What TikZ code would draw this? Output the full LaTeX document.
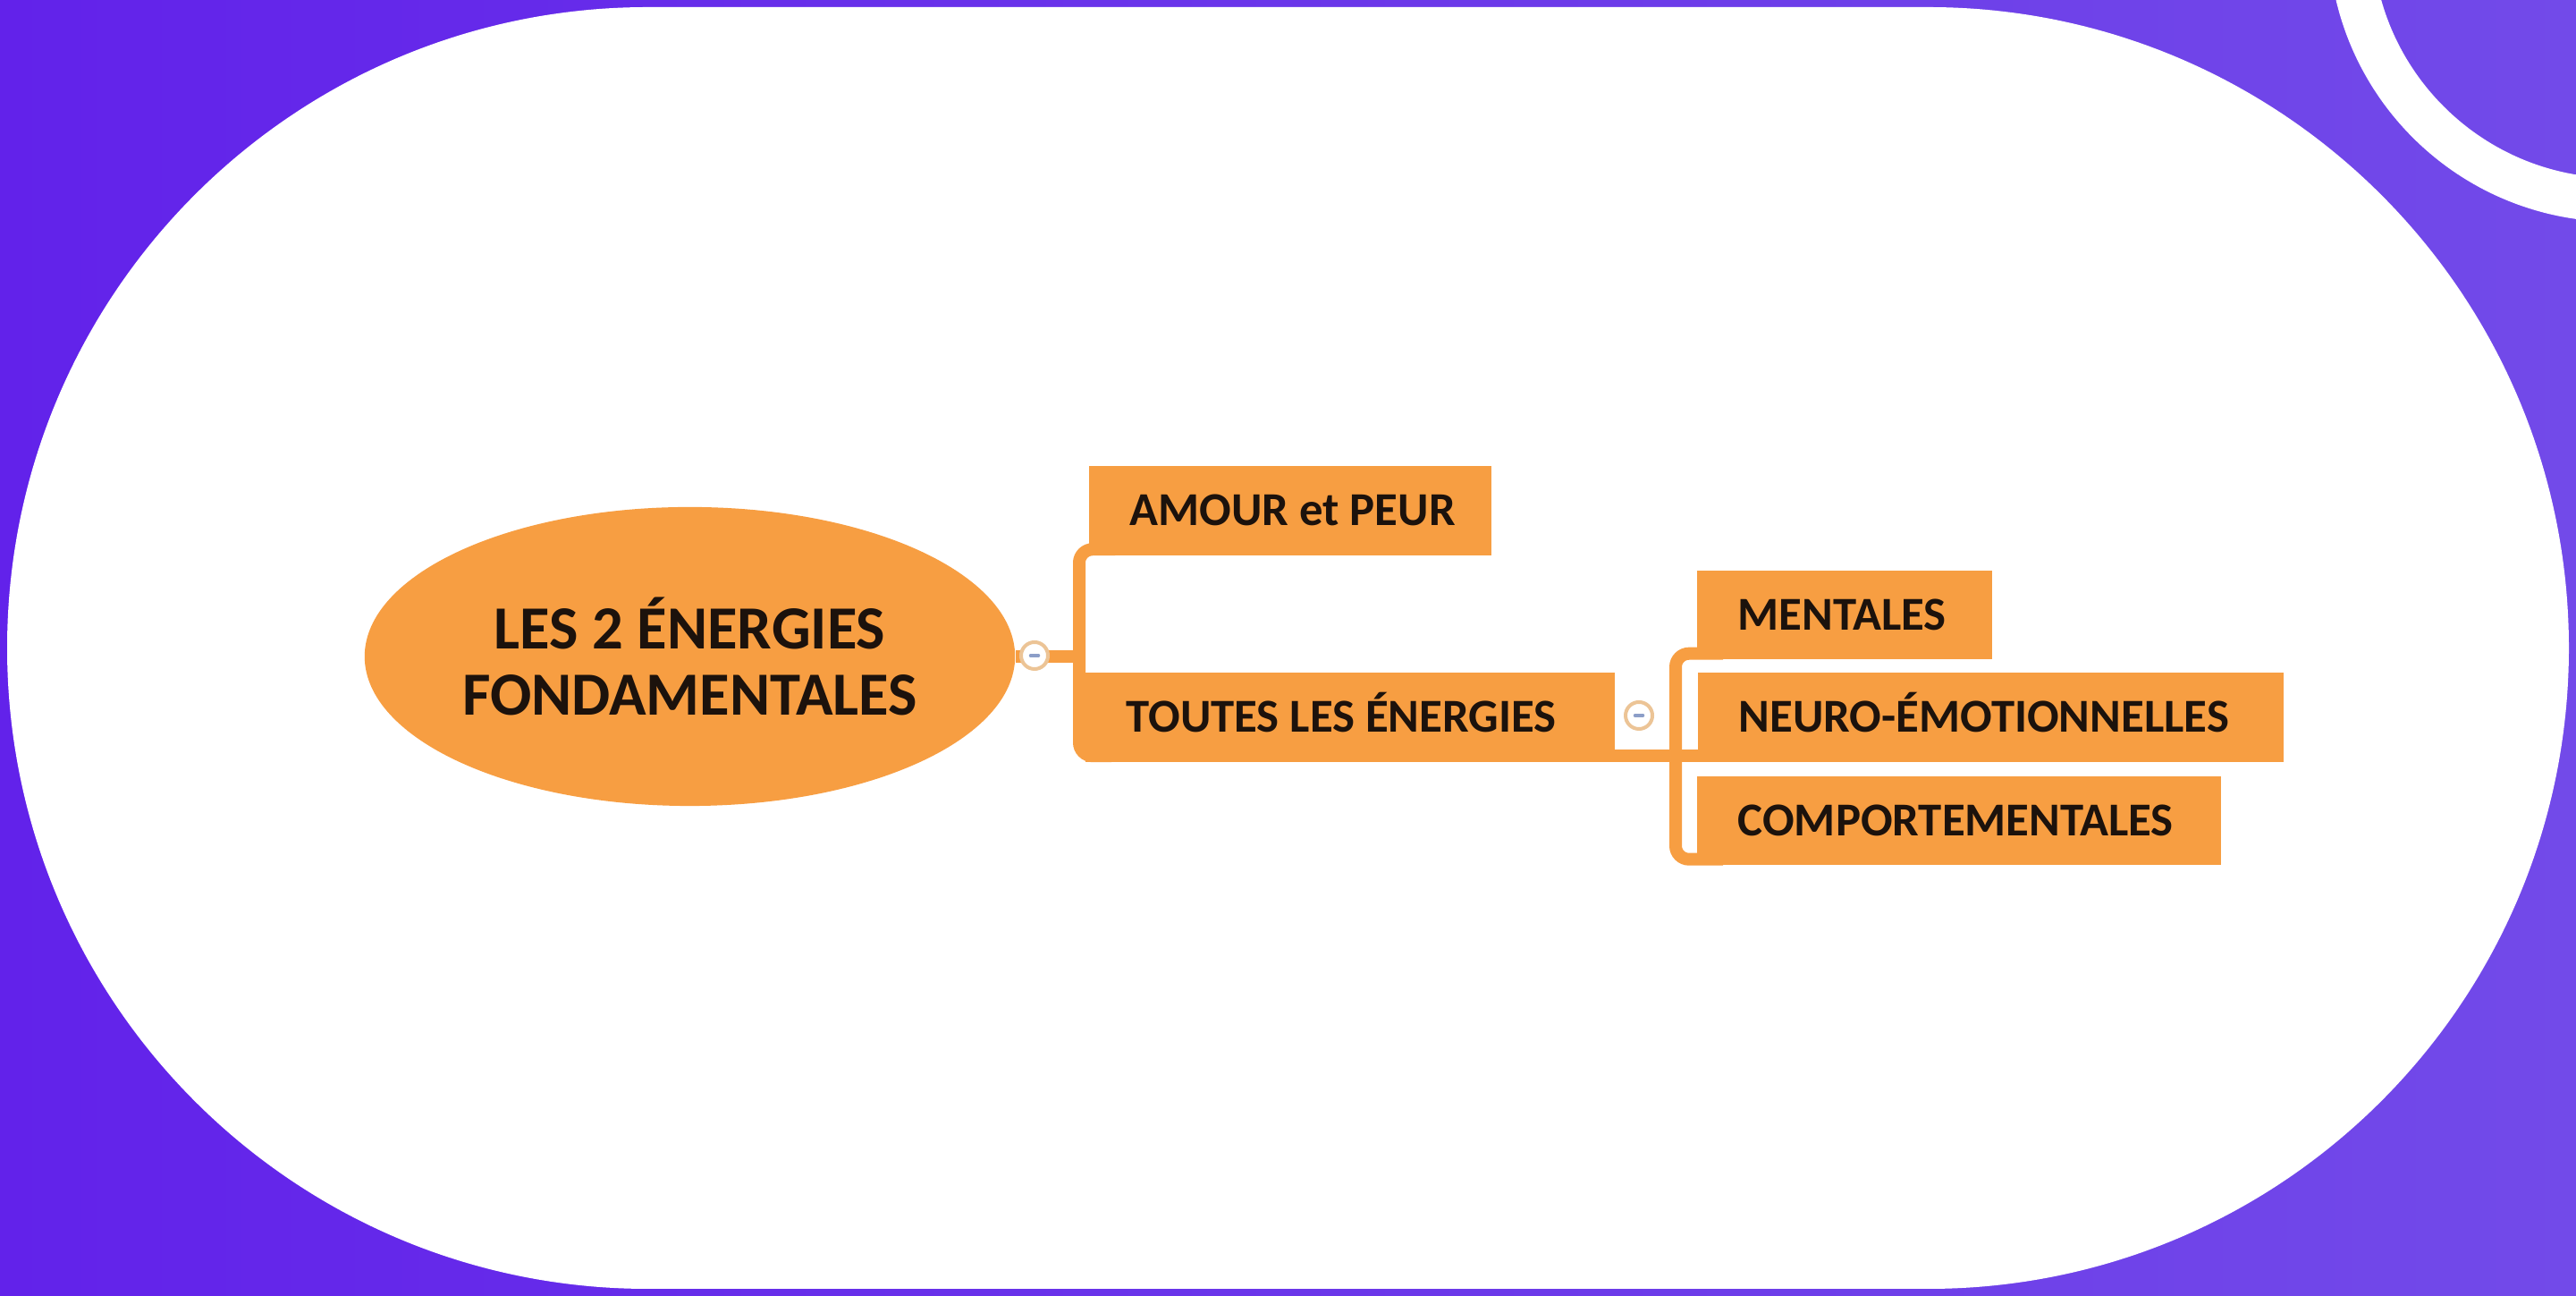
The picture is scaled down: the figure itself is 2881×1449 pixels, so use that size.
\documentclass[tikz,border=0pt]{standalone}
\usepackage{fontspec}
\setmainfont{Carlito}
\usetikzlibrary{shapes.geometric,positioning}

\definecolor{mmorange}{RGB}{247,158,66}
\definecolor{bgleft}{RGB}{98,34,234}
\definecolor{bgright}{RGB}{114,74,233}
\definecolor{toggleedge}{RGB}{236,196,150}
\definecolor{toggleminus}{RGB}{140,158,200}
\definecolor{inktext}{RGB}{28,18,12}

\newcommand{\branchtext}[2]{\makebox[#1][l]{#2}}

\tikzset{
	rootnode/.style={ellipse, fill=mmorange, inner sep=0pt, minimum width=7.27cm, minimum height=3.34cm,
		align=center, text=inktext, font=\fontsize{19.5}{21.3}\selectfont\bfseries},
	branch/.style={rectangle, fill=mmorange, anchor=west, inner xsep=0.46cm, inner ysep=0pt,
		minimum height=0.99cm, text height=9.66pt, text depth=0pt, text=inktext,
		font=\fontsize{15}{17}\selectfont\bfseries},
	link/.style={draw=mmorange, line width=0.14cm, rounded corners=0.15cm},
	toggle/.style={circle, fill=white, draw=toggleedge, line width=0.04cm, minimum size=0.3cm, inner sep=0pt,
		path picture={\draw[toggleminus, line width=0.035cm, line cap=round]
			([xshift=-0.045cm]path picture bounding box.center) -- ([xshift=0.045cm]path picture bounding box.center);}}
}

\begin{document}
\begin{tikzpicture}[x=0.01cm, y=0.01cm]
		\clip (0,0) rectangle (2881,1449);
		% background card
		\shade[left color=bgleft, right color=bgright] (0,0) rectangle (2881,1449);
		\fill[white] (724.5,8) -- (2156.5,8) arc[start angle=-90, end angle=90, radius=716.5]
			-- (724.5,1441) arc[start angle=90, end angle=270, radius=716.5] -- cycle;
		\draw[white, line width=0.49cm] (2926,1523) circle[radius=297.5];

		% mind map
		\draw (771.5,715) node[rootnode] (root) {LES 2 ÉNERGIES\\FONDAMENTALES};
		\draw (1217,878) node[branch] (amour) {\branchtext{3.58cm}{AMOUR et PEUR}};
		\draw (1213,647) node[branch] (toutes) {\branchtext{5.00cm}{TOUTES LES ÉNERGIES}};
		\draw (1897,761.5) node[branch] (mentales) {\branchtext{2.38cm}{MENTALES}};
		\draw (1898,647) node[branch] (neuro) {\branchtext{5.63cm}{NEURO-ÉMOTIONNELLES}};
		\draw (1897,531.5) node[branch] (comport) {\branchtext{4.94cm}{COMPORTEMENTALES}};

		\coordinate (b1) at (1207,715);
		\coordinate (b2) at (1874,604);

		\draw[link] (root.east) -- (b1);
		\draw[link] ([xshift=0.3cm,yshift=0.07cm]amour.south west) -| (b1)
			|- ([xshift=0.3cm,yshift=0.07cm]toutes.south west);
		\draw[link] ([xshift=-0.3cm,yshift=0.07cm]toutes.south east) -- ([xshift=0.3cm,yshift=0.07cm]neuro.south west);
		\draw[link] ([xshift=0.3cm,yshift=0.07cm]mentales.south west) -| (b2)
			|- ([xshift=0.3cm,yshift=0.07cm]comport.south west);

		\node[toggle] (t1) at (1157,716) {};
		\node[toggle] (t2) at (1833,649) {};
\end{tikzpicture}
\end{document}
